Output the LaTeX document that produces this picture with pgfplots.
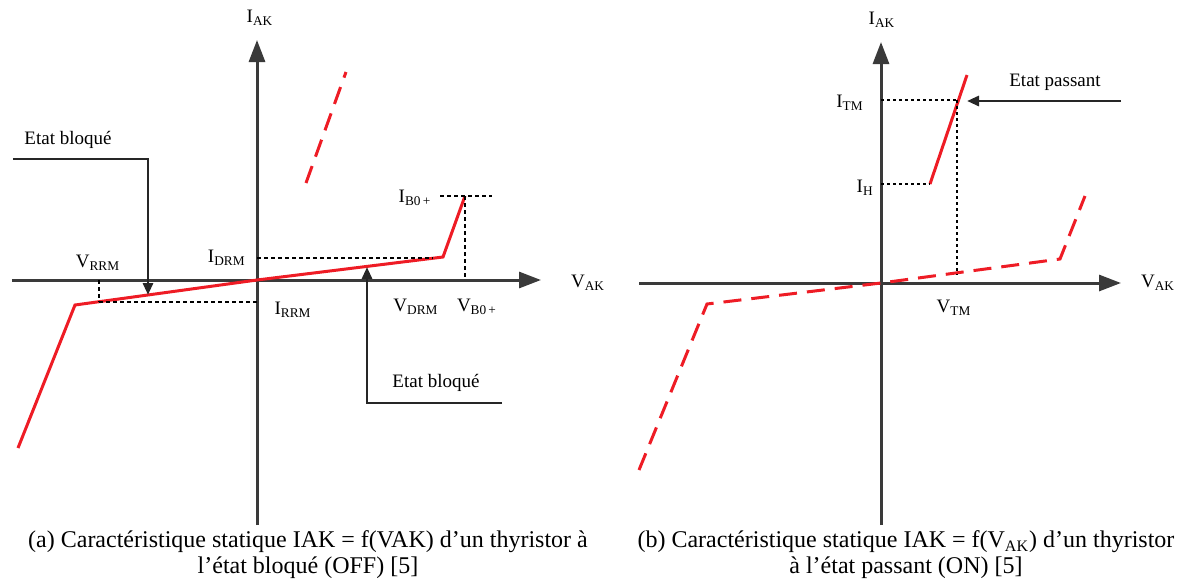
\documentclass[border=0pt]{standalone}
\usepackage{fontspec}
\setmainfont{Liberation Serif}
\usepackage{pgfplots}
\pgfplotsset{compat=1.18}
\usetikzlibrary{arrows.meta}

\definecolor{axgray}{HTML}{3A3A3A}
\definecolor{curvered}{HTML}{EE1C25}

\pgfplotsset{
  thyr/.style={
    x=0.5pt, y=0.5pt,
    axis lines=middle,
    every inner x axis line/.append style={axgray, line width=1.5pt, -{Triangle[length=11pt,width=8pt]}},
    every inner y axis line/.append style={axgray, line width=1.5pt, -{Triangle[length=11pt,width=8pt]}},
    xtick=\empty, ytick=\empty,
    enlargelimits=false,
    clip=false,
    anchor=origin,
    every axis plot/.append style={mark=none},
  },
  curve/.style={curvered, line width=1.5pt},
  curvedash/.style={curvered, line width=1.5pt, dash pattern=on 9pt off 5pt},
  guide/.style={black, line width=1pt, dash pattern=on 2pt off 1.5pt},
  pointer/.style={black!85, line width=1.4pt, -{Triangle[length=6pt,width=5pt]}},
}
\newcommand{\lblfont}{\fontsize{9.5}{11}\selectfont}
\newcommand{\capfont}{\fontsize{12}{13}\selectfont}
\tikzset{lbl/.style={font=\lblfont, inner sep=1pt}}

\begin{document}
\begin{tikzpicture}
\useasboundingbox (0,0) rectangle (592pt,-292pt);

% ---------- (a) état bloqué ----------
\begin{axis}[thyr, at={(128.5pt,-140pt)},
  xmin=-245, xmax=284, ymin=-245, ymax=240]
  \addplot[curve] coordinates {(-239,-168) (-182,-25) (0,0) (186,23) (208,84)};
  \addplot[curvedash] coordinates {(49,97) (89,208)};
  % guides
  \addplot[guide] coordinates {(183,84) (235,84)};
  \addplot[guide] coordinates {(208,84) (208,0)};
  \addplot[guide] coordinates {(0,22) (176,22)};
  \addplot[guide] coordinates {(-158,0) (-158,-22)};
  \addplot[guide] coordinates {(-158,-22) (0,-22)};
  % pointers
  \addplot[pointer] coordinates {(-244,121) (-109,121) (-109,-15)};
  \addplot[pointer] coordinates {(245,-123) (110,-123) (110,13)};
  % labels
  \node[lbl] at (axis cs:3,262) {I\textsubscript{AK}};
  \node[lbl] at (axis cs:331,-3) {V\textsubscript{AK}};
  \node[lbl] at (axis cs:158,82) {I\textsubscript{B0\,+}};
  \node[lbl,anchor=east] at (axis cs:-9,22) {I\textsubscript{DRM}};
  \node[lbl] at (axis cs:-159,17) {V\textsubscript{RRM}};
  \node[lbl] at (axis cs:36,-30) {I\textsubscript{RRM}};
  \node[lbl] at (axis cs:159,-27) {V\textsubscript{DRM}};
  \node[lbl] at (axis cs:220,-27) {V\textsubscript{B0\,+}};
  \node[lbl] at (axis cs:-189,140) {Etat bloqué};
  \node[lbl] at (axis cs:179,-103) {Etat bloqué};
  \node[align=center,font=\capfont] at (axis cs:51,-275)
    {(a) Caractéristique statique IAK = f(VAK) d’un thyristor à\\ l’état bloqué (OFF) [5]};
\end{axis}

% ---------- (b) état passant ----------
\begin{axis}[thyr, at={(440.5pt,-141.5pt)},
  xmin=-242, xmax=240, ymin=-242, ymax=241]
  \addplot[curve] coordinates {(49,99) (86,208)};
  \addplot[curvedash] coordinates {(-242,-187) (-174,-21) (0,0) (179,24) (204,87)};
  % guides
  \addplot[guide, dash pattern=on 1.5pt off 1.5pt] coordinates {(0,183) (76,183)};
  \addplot[guide, dash pattern=on 1.5pt off 1.5pt] coordinates {(76,183) (76,8)};
  \addplot[guide, dash pattern=on 1.5pt off 1.5pt] coordinates {(0,99) (49,99)};
  % pointer
  \addplot[pointer] coordinates {(240,182) (86,182)};
  % labels
  \node[lbl] at (axis cs:1,263) {I\textsubscript{AK}};
  \node[lbl] at (axis cs:277,0) {V\textsubscript{AK}};
  \node[lbl,anchor=east] at (axis cs:-15,180) {I\textsubscript{TM}};
  \node[lbl,anchor=east] at (axis cs:-5,95) {I\textsubscript{H}};
  \node[lbl] at (axis cs:73,-25) {V\textsubscript{TM}};
  \node[lbl] at (axis cs:174,201) {Etat passant};
  \node[align=center,font=\capfont] at (axis cs:25,-272)
    {(b) Caractéristique statique IAK = f(V\textsubscript{AK}) d’un thyristor\\ à l’état passant (ON) [5]};
\end{axis}
\end{tikzpicture}
\end{document}
